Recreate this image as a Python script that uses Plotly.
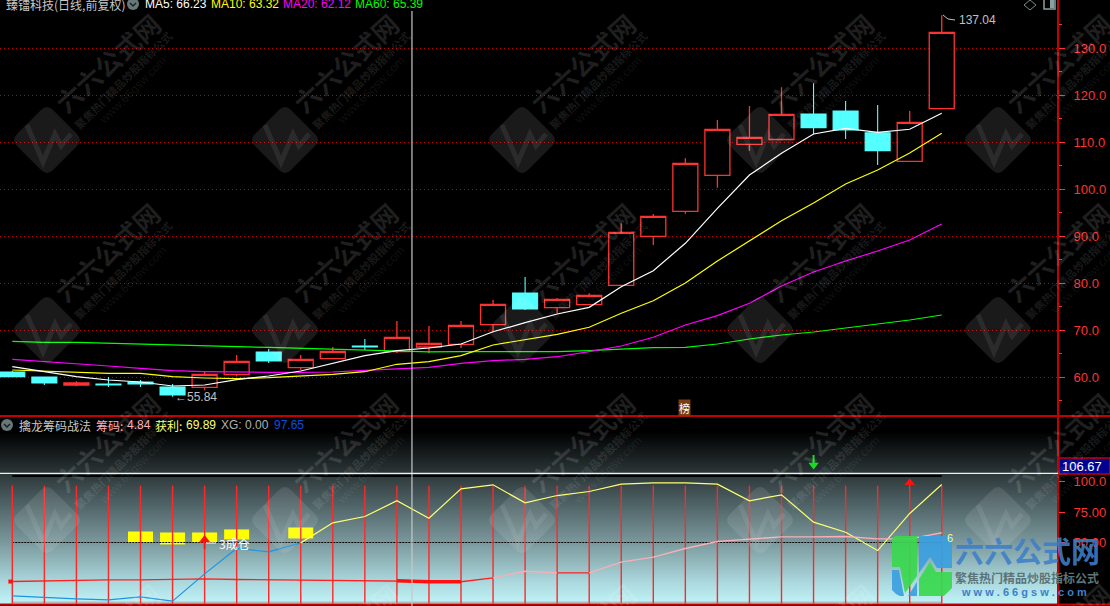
import plotly.graph_objects as go

W, H = 1110, 606
PLOT_R = 1058
PANE = 416
BOTTOM = 604

days = list(range(30))
open_ = [61.13,60.06,58.36,58.57,59.00,57.94,57.87,60.55,65.38,62.04,63.96,66.66,65.45,66.45,67.02,71.19,77.94,74.81,75.45,79.57,89.99,95.32,102.98,109.58,110.60,116.02,116.66,112.04,105.96,117.15]
close = [60.13,58.79,58.79,58.36,58.57,56.23,60.64,63.40,63.47,63.83,65.53,66.45,68.51,67.23,71.06,75.53,74.53,76.60,77.45,90.85,94.25,105.53,112.77,111.06,115.96,113.11,112.62,108.21,114.26,133.40]
high = [61.34,60.06,59.15,60.06,59.43,58.57,61.34,64.74,66.02,64.74,66.45,68.15,71.98,70.91,71.98,76.45,81.34,76.87,77.87,92.77,94.74,106.60,114.74,117.72,121.70,122.55,118.79,117.94,116.66,137.04]
low = [60.13,58.36,58.08,57.94,57.94,55.84,57.23,60.21,63.04,61.55,63.96,65.81,65.17,65.10,66.23,69.57,74.32,73.68,75.45,79.57,88.15,94.81,100.34,108.21,110.60,111.70,110.70,105.17,105.96,117.15]

ma5 = [62.26,61.19,60.13,59.43,59.00,58.15,58.36,59.49,60.28,61.34,63.04,64.60,65.66,66.23,67.09,69.70,71.62,73.47,74.89,79.28,82.68,88.51,95.96,103.04,107.66,111.77,112.98,112.13,112.77,116.17]
ma10 = [61.55,61.34,61.06,60.85,60.85,60.13,59.85,59.70,59.91,60.28,60.64,61.19,62.77,63.32,64.60,66.87,67.94,69.15,70.64,73.62,76.30,80.07,84.74,89.07,93.32,97.09,101.13,104.11,107.72,111.92]
ma20 = [63.83,63.40,62.98,62.40,61.92,61.40,61.19,61.06,61.06,61.06,61.13,61.49,61.77,62.12,62.98,63.53,63.83,64.38,65.45,66.66,68.51,71.13,73.11,75.75,79.43,82.40,84.74,86.87,89.21,92.62]
ma60 = [67.66,67.45,67.45,67.24,67.02,66.87,66.66,66.51,66.38,66.17,66.02,65.74,65.53,65.39,65.45,65.45,65.45,65.45,65.66,66.02,66.30,66.38,67.09,68.15,69.00,69.64,70.49,71.34,72.19,73.26]

profit = [6.3,4.9,3.8,3.0,5.5,1.9,24.3,45.1,42.4,49.7,66.1,71.3,84.2,69.89,94.0,97.3,82.5,88.5,91.8,97.8,98.9,98.9,97.8,84.2,89.1,66.7,58.4,43.4,73.8,97.5]
chips = [18.0,18.6,19.1,19.4,19.4,19.7,20.2,19.7,19.4,19.4,19.1,18.6,18.6,17.8,17.8,21.0,26.4,25.1,25.1,33.9,38.0,45.1,50.8,52.7,54.6,54.6,54.9,53.0,53.0,58.0]
stick_top = [96.5]*28 + [100.0, 96.5]

block_days = [4,5,6,7,9]
block_low = [50.0,48.4,50.0,52.5,53.3]
block_high = [59.0,58.2,58.2,60.7,62.3]

main_ticks = [60,70,80,90,100,110,120,130]
main_tick_text = ["60.0","70.0","80.0","90.0","100.0","110.0","120.0","130.0"]
main_minor = [55,65,75,85,95,105,115,125,135]
lower_ticks = [100,75,50]
lower_tick_text = ["100.0","75.00","50.00"]
cross_price = 106.67
cross_day = 12.47

mark_cols = [47,285,522,760,998]
mark_rows = [140,330,520,710]

RED = "#ff3232"
CYAN = "#54ffff"
CJK = "Noto Sans CJK SC"
LATIN = "Liberation Sans"

def px(x):
    return x / W
def py(y):
    return 1 - y / H

x_span = [(0 - 12.3) / 32.05, (PLOT_R - 12.3) / 32.05]
main_span = [140.277 - PANE / 4.7, 140.277]
lower_span = [(603.5 - BOTTOM) / 1.22, (603.5 - PANE) / 1.22]

fig = go.Figure()

# gradient pane background: one band per two screen pixels
band_px = list(range(432, 606, 2))
band_val = [(603.5 - p) / 1.22 for p in band_px]
band_z = [[(p - 432) / 172, (p - 432) / 172] for p in band_px]
fig.add_trace(go.Heatmap(
    x=x_span, y=band_val, z=band_z, xaxis="x2", yaxis="y2",
    showscale=False, hoverinfo="skip", zmin=0, zmax=1,
    colorscale=[[0, "#000000"], [0.244, "#2c3739"], [0.32, "#3c4a4d"], [0.413, "#4d6164"],
                [0.64, "#7a989c"], [0.86, "#a8d5da"], [1, "#c0f4f8"]]))

# main pane
fig.add_trace(go.Candlestick(
    x=days, open=open_, high=high, low=low, close=close, whiskerwidth=0,
    increasing=dict(line=dict(color=RED, width=1.3), fillcolor="#000000"),
    decreasing=dict(line=dict(color=CYAN, width=1.1), fillcolor=CYAN),
    xaxis="x", yaxis="y", hoverinfo="skip"))
for values, color in [(ma60, "#00ff00"), (ma20, "#ff00ff"), (ma10, "#ffff00"), (ma5, "#ffffff")]:
    fig.add_trace(go.Scatter(x=days, y=values, mode="lines", line=dict(color=color, width=1.2),
                             xaxis="x", yaxis="y", hoverinfo="skip"))

# lower pane helpers
def low_line(xs, ys, color, width=1.0, dash=None):
    fig.add_trace(go.Scatter(x=xs, y=ys, mode="lines", line=dict(color=color, width=width, dash=dash),
                             xaxis="x2", yaxis="y2", hoverinfo="skip", connectgaps=False))

low_line(days, [50] * 30, "#000000", 1.2, "2px,1px")
low_line(days, [104.5] * 30, "#000000", 2)
low_line(days, [1] * 30, "#b8b8b8", 1.4)

stick_x, stick_y = [], []
for d, t in zip(days, stick_top):
    stick_x += [d, d, None]
    stick_y += [0, t, None]
low_line(stick_x, stick_y, "#ff2828", 1.4)

fig.add_trace(go.Bar(
    x=block_days, y=[h - l for h, l in zip(block_high, block_low)], base=block_low,
    width=0.78, marker=dict(color="#ffff00", line=dict(width=0)), xaxis="x2", yaxis="y2", hoverinfo="skip"))

low_line(days[:10], profit[:10], "#1c94e4", 1.2)
low_line(days[9:], profit[9:], "#ffff70", 1.2)

low_line(days[:16], chips[:16], "#ff2020", 1.4)
low_line(days[15:18], chips[15:18], "#f7b0b6", 1.4)
low_line(days[17:19], chips[17:19], "#ff2020", 1.4)
low_line(days[18:], chips[18:], "#f7b0b6", 1.4)
low_line(days[12:15], chips[12:15], "#ff1010", 3.5)

fig.add_trace(go.Scatter(x=[days[0] - 0.06], y=[chips[0]], mode="markers",
                         marker=dict(symbol="square", size=4, color="#ff1010"),
                         xaxis="x2", yaxis="y2", hoverinfo="skip"))

# signal arrows
low_line([6, 6], [44.7, 52], "#ff1010", 1.6)
fig.add_trace(go.Scatter(x=[6], y=[52], mode="markers", marker=dict(symbol="triangle-up", size=10, color="#ff1010"),
                         xaxis="x2", yaxis="y2", hoverinfo="skip"))
fig.add_trace(go.Scatter(x=[28], y=[99], mode="markers", marker=dict(symbol="triangle-up", size=9, color="#ff1010"),
                         xaxis="x2", yaxis="y2", hoverinfo="skip"))
low_line([25, 25], [121.7, 115], "#10e020", 2)
fig.add_trace(go.Scatter(x=[25], y=[113.5], mode="markers", marker=dict(symbol="triangle-down", size=9, color="#10e020"),
                         xaxis="x2", yaxis="y2", hoverinfo="skip"))

shapes = []
ann = []

def label(x, y, text, color, size=12, family=LATIN, anchor="left", **kw):
    ann.append(dict(x=px(x), y=py(y), xref="paper", yref="paper", text=text, showarrow=False,
                    xanchor=anchor, yanchor="middle", font=dict(color=color, size=size, family=family), **kw))

def segment(x0, y0, x1, y1, color, width=1):
    shapes.append(dict(type="line", xref="paper", yref="paper", x0=px(x0), y0=py(y0), x1=px(x1), y1=py(y1),
                       line=dict(color=color, width=width)))

def path(points, closed=False, **kw):
    d = "M " + " L ".join(f"{px(a):.5f},{py(b):.5f}" for a, b in points) + (" Z" if closed else "")
    shapes.append(dict(type="path", xref="paper", yref="paper", path=d, **kw))

# repeated watermark
for cy in mark_rows:
    for cx in mark_cols:
        r, c = 36, 6
        d = (f"M {px(cx-r+c):.5f},{py(cy-c):.5f} L {px(cx-c):.5f},{py(cy-r+c):.5f} "
             f"Q {px(cx):.5f},{py(cy-r):.5f} {px(cx+c):.5f},{py(cy-r+c):.5f} "
             f"L {px(cx+r-c):.5f},{py(cy-c):.5f} Q {px(cx+r):.5f},{py(cy):.5f} {px(cx+r-c):.5f},{py(cy+c):.5f} "
             f"L {px(cx+c):.5f},{py(cy+r-c):.5f} Q {px(cx):.5f},{py(cy+r):.5f} {px(cx-c):.5f},{py(cy+r-c):.5f} "
             f"L {px(cx-r+c):.5f},{py(cy+c):.5f} Q {px(cx-r):.5f},{py(cy):.5f} {px(cx-r+c):.5f},{py(cy-c):.5f} Z")
        shapes.append(dict(type="path", xref="paper", yref="paper", path=d,
                           fillcolor="rgba(255,255,255,0.10)", line=dict(width=0)))
        path([(cx-20, cy-15), (cx-4, cy+22), (cx+8, cy-6), (cx+14, cy+6), (cx+24, cy-6)],
             line=dict(color="rgba(255,255,255,0.08)", width=5))
        label(cx+60, cy-78, "<b>六六公式网</b>", "rgba(255,255,255,0.12)", 26, CJK, "center", textangle=-42)
        if cy < 700:
            label(cx+76, cy-60, "<b>聚焦热门精品炒股指标公式</b>", "rgba(255,255,255,0.11)", 11, CJK, "center", textangle=-45)
            label(cx+86, cy-50, "www.66gsw.com", "rgba(255,255,255,0.08)", 12, LATIN, "center", textangle=-45)

# frame
segment(0, PANE, W, PANE, "#c40000", 2)
segment(PLOT_R, 0, PLOT_R, H, "#c40000", 2)
segment(0, BOTTOM+0.5, W, BOTTOM+0.5, "#c40000", 2)

# crosshair
shapes.append(dict(type="line", xref="x", yref="paper", x0=cross_day, x1=cross_day, y0=py(11), y1=0,
                   line=dict(color="#c8c8c8", width=1.2)))
shapes.append(dict(type="line", xref="paper", yref="y2", x0=0, x1=px(PLOT_R), y0=cross_price, y1=cross_price,
                   line=dict(color="#f0f0f0", width=1.4)))
shapes.append(dict(type="rect", xref="paper", yref="paper", x0=px(PLOT_R+1), x1=1, y0=py(474), y1=py(458),
                   fillcolor="#000090", line=dict(color="#c40000", width=1.5)))
label(1060, 466, f"{cross_price:.2f}", "#ffffff", 13)

# header row
shapes.append(dict(type="circle", xref="paper", yref="paper", x0=px(127), x1=px(139), y0=py(10), y1=py(-2),
                   fillcolor="#66787a", line=dict(width=0)))
path([(130, 3), (133, 6), (136, 3)], line=dict(color="#1c2222", width=1.5))
label(4, 4.5, "臻镭科技(日线,前复权)", "#c8c8c8", 12, CJK)
label(143, 4, "MA5: 66.23", "#ffffff")
label(209, 4, "MA10: 63.32", "#ffff00")
label(281, 4, "MA20: 62.12", "#ff00ff")
label(353, 4, "MA60: 65.39", "#00ff00")

shapes.append(dict(type="circle", xref="paper", yref="paper", x0=px(1), x1=px(13), y0=py(431), y1=py(419),
                   fillcolor="#66787a", line=dict(width=0)))
path([(4, 424), (7, 427), (10, 424)], line=dict(color="#1c2222", width=1.5))
label(17, 425, "擒龙筹码战法", "#c8c8c8", 12, CJK)
label(94, 425, "筹码:", "#ffb0b8", 12, CJK)
label(125, 425, "4.84", "#ffb0b8")
label(153, 425, "获利:", "#ffff70", 12, CJK)
label(184, 425, "69.89", "#ffff70")
label(219, 425, "XG: 0.00", "#b0b0b0")
label(272, 425, "97.65", "#0a50e0")

# price notes
label(173, 397, "←", "#b8b8b8", 12)
label(185, 397, "55.84", "#c0c0c0")
path([(943, 15), (948, 19), (955, 20)], line=dict(color="#c0c0c0", width=1))
label(957, 20, "137.04", "#c0c0c0")
label(684, 408, "榜", "#ffffff", 11, CJK, "center", bgcolor="#7a3c10", borderpad=0)

# lower notes
segment(206, 543, 216, 543, "#ffffff", 1)
label(217, 543, "3成仓", "#ffffff", 12, CJK)
label(945, 538, "6", "#ffff70", 11)

# corner icons
path([(1030, 0), (1036, 5), (1030, 10), (1024, 5)], closed=True, line=dict(color="#808888", width=1))
shapes.append(dict(type="rect", xref="paper", yref="paper", x0=px(1044), x1=px(1055), y0=py(9), y1=py(-1),
                   line=dict(color="#88a0a0", width=1.5), fillcolor="rgba(0,0,0,0)"))
shapes.append(dict(type="rect", xref="paper", yref="paper", x0=px(1050), x1=px(1054), y0=py(8), y1=py(0),
                   fillcolor="#88a0a0", line=dict(width=0)))

# corner logo
logo_green = "rgba(58,216,78,0.92)"
logo_blue = "rgba(59,159,224,0.92)"
path([(895, 536), (917, 536), (917, 576), (905, 593), (900, 567), (892, 567), (892, 539)], closed=True,
     fillcolor=logo_green, line=dict(width=0))
path([(919, 536), (952, 536), (952, 568), (937, 568), (930, 557), (919, 573)], closed=True,
     fillcolor=logo_blue, line=dict(width=0))
path([(892, 570), (899, 570), (904, 596), (900, 596), (896, 594), (892, 590)], closed=True,
     fillcolor=logo_blue, line=dict(width=0))
path([(908, 596), (917, 582), (917, 596)], closed=True, fillcolor=logo_blue, line=dict(width=0))
path([(919, 596), (919, 579), (930, 562), (936, 572), (952, 572), (952, 588), (944, 596)], closed=True,
     fillcolor=logo_green, line=dict(width=0))
label(1027, 550, "<b>六六公式网</b>", "rgba(61,127,202,0.9)", 29, CJK, "center")
label(1027, 577, "<b>繁焦热门精品炒股指标公式</b>", "#5a7478", 12, CJK, "center")
label(1024, 592, "<b>w w w . 6 6 g s w . c o m</b>", "#3d7fca", 11, LATIN, "center")

axis_common = dict(showline=False, zeroline=False, ticks="outside", tickcolor=RED, ticklen=6, tickwidth=1,
                   tickfont=dict(color=RED, size=13, family=LATIN), side="right", ticklabelstandoff=6,
                   tickmode="array")

fig.update_layout(
    width=W, height=H, margin=dict(l=0, r=0, t=0, b=0), autosize=False,
    paper_bgcolor="#000000", plot_bgcolor="rgba(0,0,0,0)", showlegend=False,
    boxgap=0.22, boxgroupgap=0, barmode="overlay", shapes=shapes, annotations=ann,
    xaxis=dict(domain=[0, px(PLOT_R)], range=x_span, visible=False, anchor="y", rangeslider=dict(visible=False)),
    xaxis2=dict(domain=[0, px(PLOT_R)], range=x_span, visible=False, anchor="y2"),
    yaxis=dict(domain=[py(PANE), 1], range=main_span, anchor="x", tickvals=main_ticks, ticktext=main_tick_text,
               showgrid=True, gridcolor="#c00000", griddash="1px,3px", gridwidth=1,
               minor=dict(tickmode="array", tickvals=main_minor, ticks="outside", ticklen=3, tickcolor=RED, showgrid=False),
               **axis_common),
    yaxis2=dict(domain=[py(BOTTOM), py(PANE)], range=lower_span, anchor="x2", tickvals=lower_ticks,
                ticktext=lower_tick_text, showgrid=False, **axis_common),
)

fig.write_html("out.html", config=dict(displayModeBar=False),
               post_script="document.body.style.margin='0';document.body.style.background='#000';")
